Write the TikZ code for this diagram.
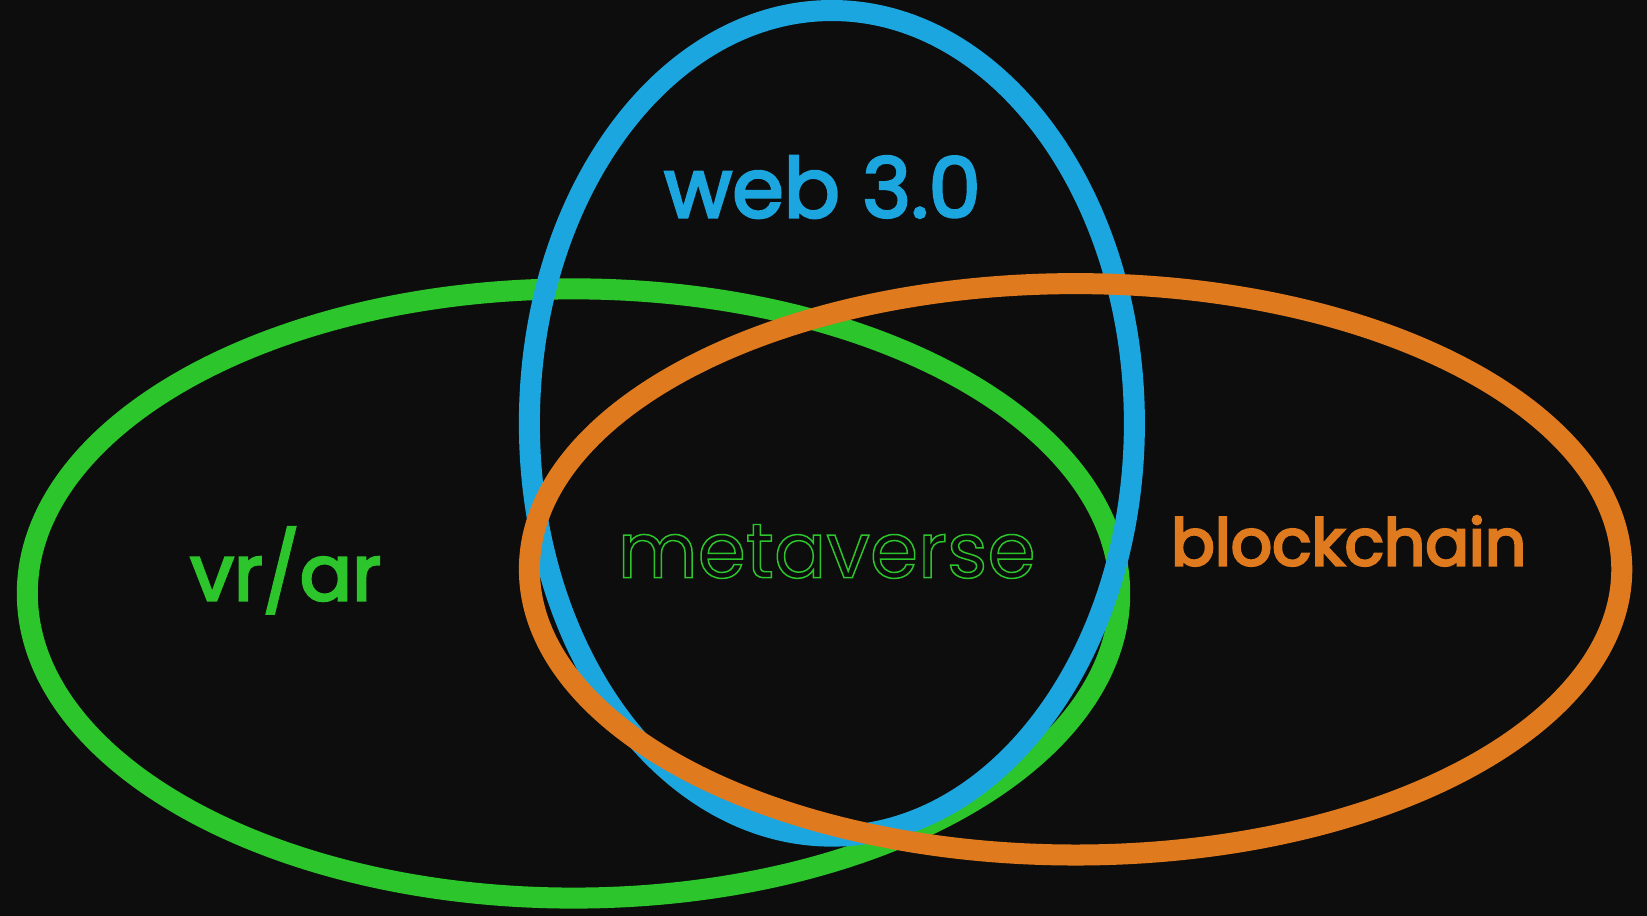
\documentclass[tikz,border=0pt]{standalone}
\usepackage{fontspec}
\setmainfont{Poppins}
\definecolor{bg}{HTML}{0D0D0D}
\definecolor{webblue}{HTML}{1CA6E0}
\definecolor{vrgreen}{HTML}{2CC52C}
\definecolor{chainorange}{HTML}{E07A1E}
\newcommand{\medw}[1]{\special{pdf:literal direct 2 Tr 0.7 w}#1\special{pdf:literal direct 0 Tr}}
\tikzset{ring/.style={line width=0.2cm},
  label/.style={font=\fontsize{21}{21}\selectfont, inner sep=0pt}}
\begin{document}
\begin{tikzpicture}[x=0.01cm,y=-0.01cm]
  \fill[bg] (0,0) rectangle (1568,872);
  \useasboundingbox (0,0) rectangle (1568,872);

  \draw[ring, vrgreen] (546,565) ellipse [x radius=520, y radius=290];
  \draw[ring, webblue] (792,403) ellipse [x radius=288, y radius=393];
  \draw[ring, chainorange] (1024,542) ellipse [x radius=520, y radius=272];

  \node[label, webblue, font=\fontsize{22.5}{22.5}\selectfont] (web) at (783,178) {\medw{web 3.0}};
  \node[label, vrgreen] (vrar) at (272,543) {\medw{vr/ar}};
  \node[label, chainorange, font=\fontsize{17.5}{17.5}\selectfont] (chain) at (1284,515) {\medw{blockchain}};
  \node[label, vrgreen] (meta) at (787,525)
    {\special{pdf:literal direct 1 Tr 0.4 w}metaverse\special{pdf:literal direct 0 Tr}};
\end{tikzpicture}
\end{document}
